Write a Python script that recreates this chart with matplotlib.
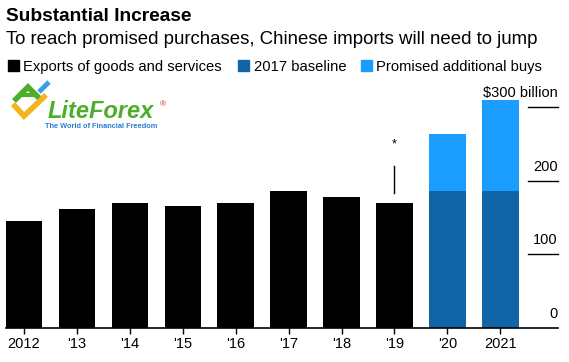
import matplotlib
matplotlib.use('Agg')
import matplotlib.pyplot as plt
from matplotlib.lines import Line2D

plt.rcParams['font.family'] = ['Liberation Sans', 'DejaVu Sans']

# data, $ billion
years = ['2012', "'13", "'14", "'15", "'16", "'17", "'18", "'19", "'20", '2021']
exports = [145, 161, 169, 166, 170, 186, 178, 169]
baseline = [186, 186]
additional = [77, 123]
yticks = [0, 100, 200, 300]
ytick_labels = ['0', '100', '200', '$300 billion']

black = '#000000'
dark_blue = '#1164a5'
light_blue = '#1a9dff'

W, H = 569, 362
fig = plt.figure(figsize=(W / 100, H / 100), dpi=100)

def px(x, y):
    # pixel coords (from top-left) to figure fraction
    return x / W, 1 - y / H

# titles
fig.text(*px(6, 20.7), 'Substantial Increase', fontsize=13.8, fontweight='bold', va='baseline')
fig.text(*px(6, 44), 'To reach promised purchases, Chinese imports will need to jump',
         fontsize=13.4, va='baseline')

# legend
leg = [(8, 23, 'Exports of goods and services', black),
       (238, 254, '2017 baseline', dark_blue),
       (361, 376, 'Promised additional buys', light_blue)]
for x0, xt, lab, c in leg:
    fig.patches.append(plt.Rectangle(px(x0, 71), 11 / W, 11 / H, color=c,
                                     transform=fig.transFigure, figure=fig))
    fig.text(*px(xt, 71), lab, fontsize=10.6, va='baseline')

# chart
ax = fig.add_axes([6 / W, 1 - 327.6 / H, 552 / W, (327.6 - 92.4) / H])
n_exp = len(exports)
xe = list(range(n_exp))
xb = list(range(n_exp, len(years)))
ax.bar(xe, exports, width=0.69, color=black)
ax.bar(xb, baseline, width=0.69, color=dark_blue)
ax.bar(xb, additional, bottom=baseline, width=0.69, color=light_blue)

ax.set_xlim(-0.34, 10.09)
ax.set_ylim(0, 320)
ax.set_xticks(range(len(years)))
ax.set_xticklabels(years, fontsize=10.5)
ax.tick_params(axis='x', length=4, width=1, color='black', pad=3)
ax.set_yticks([])
for s in ['top', 'right', 'left']:
    ax.spines[s].set_visible(False)
ax.spines['bottom'].set_linewidth(1.2)

yt = ax.get_yaxis_transform()
for v, lab in zip(yticks, ytick_labels):
    if v > 0:
        ax.plot([0.945, 1.0], [v, v], color='black', lw=1, transform=yt, clip_on=False)
    ax.annotate(lab, xy=(1.0, v), xycoords=yt, xytext=(0, 7), textcoords='offset points',
                ha='right', va='baseline', fontsize=10.5)

# asterisk marker above 2019
v19 = exports[-1]
ax.plot([n_exp - 1, n_exp - 1], [v19 + 14, v19 + 51], color='black', lw=1)
ax.text(n_exp - 1, v19 + 80, '*', ha='center', va='center', fontsize=9)

# watermark logo
def seg(pts, c, lw):
    xs = [p[0] / W for p in pts]
    ys = [1 - p[1] / H for p in pts]
    fig.lines.append(Line2D(xs, ys, color=c, lw=lw, transform=fig.transFigure,
                            solid_capstyle='butt', solid_joinstyle='miter'))

seg([(14, 101), (28, 87), (42, 101)], '#4cae2a', 4)
seg([(22, 95), (36, 95)], '#4cae2a', 3)
seg([(13, 104), (24, 116), (46, 95)], '#f2b51c', 4)
seg([(39, 92), (49, 82)], '#3a9ee0', 3.5)
fig.text(*px(48, 118), 'LiteForex', fontsize=17, fontweight='bold', style='italic',
         color='#4cae2a', va='baseline')
fig.text(*px(160, 106), '®', fontsize=6, color='#d0342c', va='baseline')
fig.text(*px(45, 128), 'The World of Financial Freedom', fontsize=5.3, fontweight='bold',
         color='#2a7fd4', va='baseline')

fig.savefig('out.png', dpi=100)
